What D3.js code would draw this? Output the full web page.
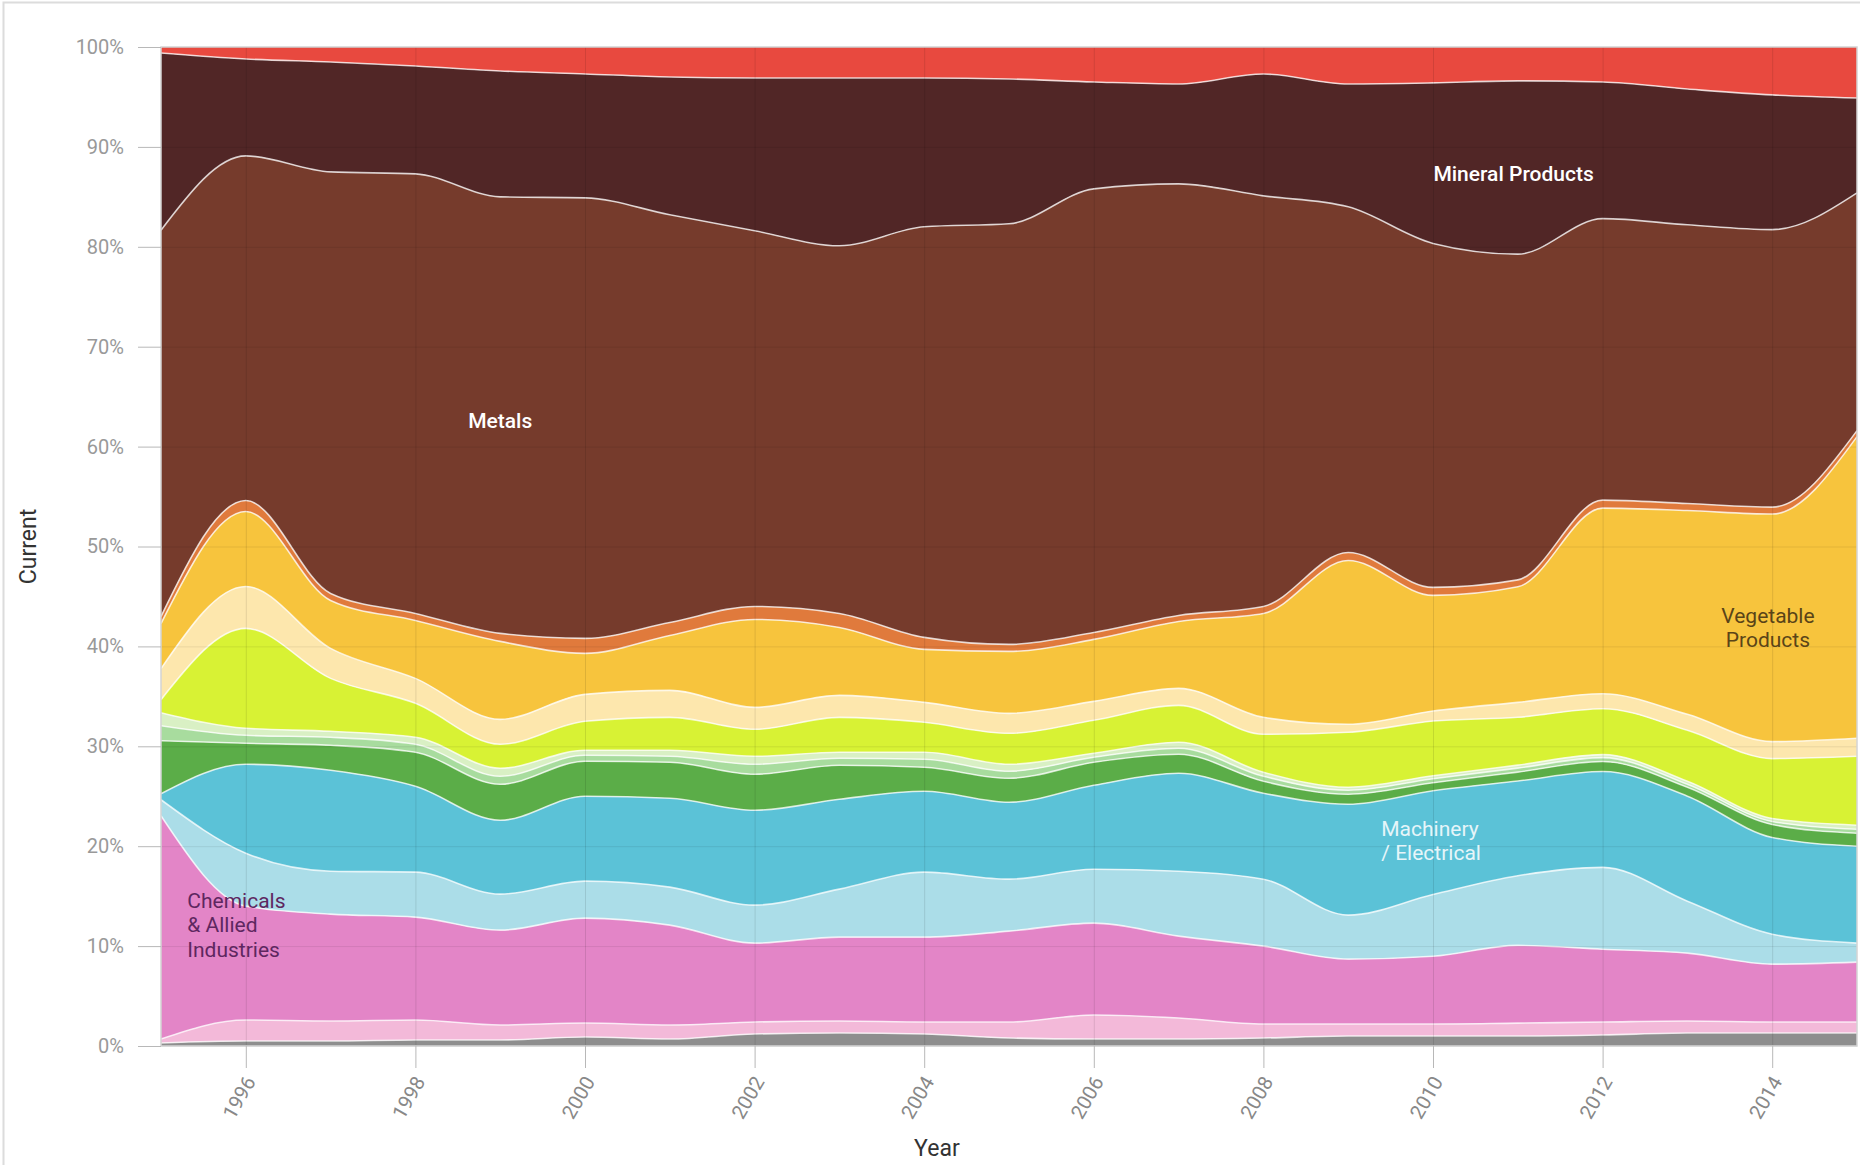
<!DOCTYPE html>
<html>
<head>
<meta charset="utf-8">
<script src="https://cdn.jsdelivr.net/npm/d3@7"></script>
<style>
  html, body { margin: 0; padding: 0; background: #fff; }
  svg { display: block; }
</style>
</head>
<body>
<svg id="chart" width="1860" height="1165"></svg>
<script>
// ---------- DATA ----------
const years = [1995,1996,1997,1998,1999,2000,2001,2002,2003,2004,2005,2006,2007,2008,2009,2010,2011,2012,2013,2014,2015];

// series, bottom to top (share of exports, %)
const miscellaneous   = [0.3,0.5,0.5,0.6,0.6,0.9,0.7,1.2,1.3,1.2,0.8,0.7,0.7,0.8,1.0,1.0,1.0,1.1,1.3,1.3,1.3];
const plastics        = [0.4,2.1,2.0,2.0,1.5,1.4,1.4,1.2,1.2,1.2,1.6,2.4,2.1,1.4,1.2,1.2,1.3,1.3,1.2,1.1,1.1];
const chemicals       = [22.3,11.4,10.7,10.3,9.5,10.5,10.0,7.9,8.4,8.5,9.1,9.2,8.2,7.8,6.5,6.8,7.8,7.3,6.8,5.8,6.0];
const transportation  = [1.6,5.3,4.3,4.5,3.6,3.7,3.8,3.8,4.8,6.5,5.2,5.4,6.5,6.7,4.4,6.2,7.0,8.2,5.2,3.0,1.9];
const machinery       = [0.6,8.9,10.1,8.6,7.4,8.5,8.9,9.5,9.0,8.1,7.7,8.4,9.8,8.6,11.1,10.4,9.5,9.6,10.5,9.7,9.7];
const textiles        = [5.3,2.1,2.5,3.4,3.6,3.5,3.6,3.6,3.4,2.4,2.4,2.3,1.9,1.2,1.0,0.8,0.9,1.0,0.9,1.3,1.3];
const stoneGlass      = [1.5,0.8,0.8,0.8,0.8,0.6,0.6,1.0,0.7,0.8,0.7,0.5,0.6,0.5,0.4,0.4,0.4,0.4,0.3,0.3,0.4];
const woodProducts    = [1.3,0.7,0.6,0.7,0.8,0.5,0.6,0.8,0.6,0.7,0.7,0.4,0.6,0.4,0.3,0.3,0.3,0.3,0.3,0.3,0.4];
const foodstuffs      = [1.3,10.0,5.3,3.4,2.4,2.9,3.3,2.7,3.5,3.0,3.1,3.3,3.7,3.8,5.5,5.5,4.8,4.6,5.1,6.0,6.9];
const animalProducts  = [3.1,4.2,3.0,2.5,2.5,2.7,2.7,2.2,2.2,2.0,2.0,1.9,1.7,1.7,0.8,1.0,1.5,1.5,1.6,1.7,1.8];
const vegetable       = [4.5,7.5,4.8,5.8,7.8,4.1,5.5,8.8,6.8,5.3,6.2,6.2,6.7,10.4,16.4,11.6,11.6,18.6,20.4,22.8,30.2];
const byProducts      = [0.7,1.1,0.7,0.7,0.8,1.5,1.3,1.3,1.4,1.2,0.7,0.7,0.6,0.7,0.8,0.8,0.7,0.8,0.7,0.7,0.6];
const metals          = [38.6,34.5,42.2,44.0,43.7,44.1,40.8,37.6,36.8,41.1,42.1,44.4,43.2,41.1,34.6,34.5,32.7,28.2,27.9,27.8,23.8];
const mineral         = [17.7,9.7,11.0,10.8,12.6,12.4,13.8,15.3,16.8,14.9,14.5,10.7,10.0,12.2,12.3,16.1,17.4,13.7,13.6,13.5,9.5];
const preciousMetals  = [0.6,1.2,1.5,1.9,2.4,2.7,3.0,3.1,3.1,3.1,3.2,3.5,3.7,2.7,3.7,3.6,3.4,3.5,4.2,4.8,5.1];

const seriesNames = ["Miscellaneous","Plastics / Rubbers","Chemicals & Allied Industries","Transportation",
  "Machinery / Electrical","Textiles","Stone / Glass","Wood Products","Foodstuffs","Animal Products",
  "Vegetable Products","Animal & Vegetable Bi-Products","Metals","Mineral Products","Precious Metals"];
const seriesValues = [miscellaneous,plastics,chemicals,transportation,machinery,textiles,stoneGlass,
  woodProducts,foodstuffs,animalProducts,vegetable,byProducts,metals,mineral,preciousMetals];
const seriesColors = ["#8e8e8e","#f3b9d9","#e385c7","#abdde8","#5bc2d7","#5bad48","#a8dc9e","#d9f0c4",
  "#d8f234","#fde7ad","#f7c43d","#e07a3c","#763b2c","#512626","#e8493f"];

const yTickValues = [0,0.1,0.2,0.3,0.4,0.5,0.6,0.7,0.8,0.9,1.0];
const xTickValues = [1996,1998,2000,2002,2004,2006,2008,2010,2012,2014];

// ---------- LAYOUT ----------
const W = 1860, H = 1165;
const m = {left: 161, top: 47, right: 3, bottom: 119};
const svg = d3.select("#chart");

const x = d3.scaleLinear().domain([1995, 2015]).range([m.left, W - m.right]);
const y = d3.scaleLinear().domain([0, 1]).range([H - m.bottom, m.top]);

// outer frame
svg.append("rect").attr("x", 3.5).attr("y", 2.5).attr("width", W + 10).attr("height", H + 10)
  .attr("fill", "none").attr("stroke", "#dcdcdc").attr("stroke-width", 2);

// table
const table = years.map((yr, i) => {
  const row = {year: yr};
  seriesNames.forEach((n, k) => row[n] = seriesValues[k][i]);
  return row;
});
const stacked = d3.stack().keys(seriesNames).offset(d3.stackOffsetExpand)(table);

const curve = d3.curveMonotoneX;
const area = d3.area().curve(curve)
  .x(d => x(d.data.year)).y0(d => y(d[0])).y1(d => y(d[1]));
const topLine = d3.line().curve(curve)
  .x(d => x(d.data.year)).y(d => y(d[1]));

const plot = svg.append("g");
plot.selectAll("path.area").data(stacked).join("path")
  .attr("class", "area")
  .attr("d", area)
  .attr("fill", (d, i) => seriesColors[i]);

plot.selectAll("path.edge").data(stacked.slice(0, stacked.length - 1)).join("path")
  .attr("class", "edge")
  .attr("d", topLine)
  .attr("fill", "none")
  .attr("stroke", "#fff")
  .attr("stroke-opacity", 0.75)
  .attr("stroke-width", 1.6);

// gridlines over the areas
const grid = svg.append("g");
grid.append("g").attr("transform", `translate(0,${y(0)})`)
  .call(d3.axisBottom(x).tickValues(xTickValues).tickSize(-(y(0) - y(1))).tickFormat(""))
  .call(g => g.select(".domain").remove())
  .call(g => g.selectAll("line").attr("stroke", "#000").attr("stroke-opacity", 0.1));
grid.append("g").attr("transform", `translate(${m.left},0)`)
  .call(d3.axisLeft(y).tickValues(yTickValues).tickSize(-(x(2015) - x(1995))).tickFormat(""))
  .call(g => g.select(".domain").remove())
  .call(g => g.selectAll("line").attr("stroke", "#000").attr("stroke-opacity", 0.08));

// plot border
svg.append("rect")
  .attr("x", x(1995)).attr("y", y(1))
  .attr("width", x(2015) - x(1995)).attr("height", y(0) - y(1))
  .attr("fill", "none").attr("stroke", "#d4d4d4").attr("stroke-width", 1.5);

// y axis
const yAxis = svg.append("g").attr("transform", `translate(${m.left},0)`)
  .call(d3.axisLeft(y).tickValues(yTickValues).tickFormat(d3.format(".0%")).tickSize(23).tickPadding(14));
yAxis.select(".domain").remove();
yAxis.selectAll("line").attr("stroke", "#b8b8b8");
yAxis.selectAll("text").attr("fill", "#999").attr("font-family", "Roboto, 'Noto Sans', sans-serif")
  .attr("font-size", 20);

// x axis
const xAxis = svg.append("g").attr("transform", `translate(0,${y(0)})`)
  .call(d3.axisBottom(x).tickValues(xTickValues).tickFormat(d3.format("d")).tickSize(22));
xAxis.select(".domain").remove();
xAxis.selectAll("line").attr("stroke", "#b8b8b8");
xAxis.selectAll("text")
  .attr("fill", "#888").attr("font-family", "Roboto, 'Noto Sans', sans-serif").attr("font-size", 20)
  .attr("text-anchor", "end").attr("y", 0).attr("dy", "0.35em")
  .attr("transform", "translate(4,32) rotate(-60)");

// axis titles
svg.append("text").attr("transform", `translate(36,${(y(0) + y(1)) / 2}) rotate(-90)`)
  .attr("text-anchor", "middle").attr("fill", "#333")
  .attr("font-family", "Roboto, 'Noto Sans', sans-serif").attr("font-size", 23)
  .text("Current");
svg.append("text").attr("x", x(2004.15)).attr("y", 1156)
  .attr("text-anchor", "middle").attr("fill", "#333")
  .attr("font-family", "Roboto, 'Noto Sans', sans-serif").attr("font-size", 23)
  .text("Year");

// in-chart labels
const labels = [
  {lines: ["Metals"], yr: 1999.0, v: [0.619], anchor: "middle", color: "#ffffff", weight: 500},
  {lines: ["Mineral Products"], yr: 2010.95, v: [0.866], anchor: "middle", color: "#ffffff", weight: 500},
  {lines: ["Vegetable", "Products"], yr: 2013.95, v: [0.4234, 0.399], anchor: "middle", color: "#5a4418", weight: 400},
  {lines: ["Machinery", "/ Electrical"], yr: 2009.39, v: [0.21, 0.186], anchor: "start", color: "#e6f5f9", weight: 400},
  {lines: ["Chemicals", "& Allied", "Industries"], yr: 1995.31, v: [0.138, 0.114, 0.089], anchor: "start", color: "#5e2760", weight: 400}
];
labels.forEach(l => {
  l.lines.forEach((t, i) => {
    svg.append("text").attr("x", x(l.yr)).attr("y", y(l.v[i]))
      .attr("text-anchor", l.anchor).attr("fill", l.color)
      .attr("font-family", "Roboto, 'Noto Sans', sans-serif").attr("font-size", 21)
      .attr("font-weight", l.weight)
      .text(t);
  });
});
</script>
</body>
</html>
